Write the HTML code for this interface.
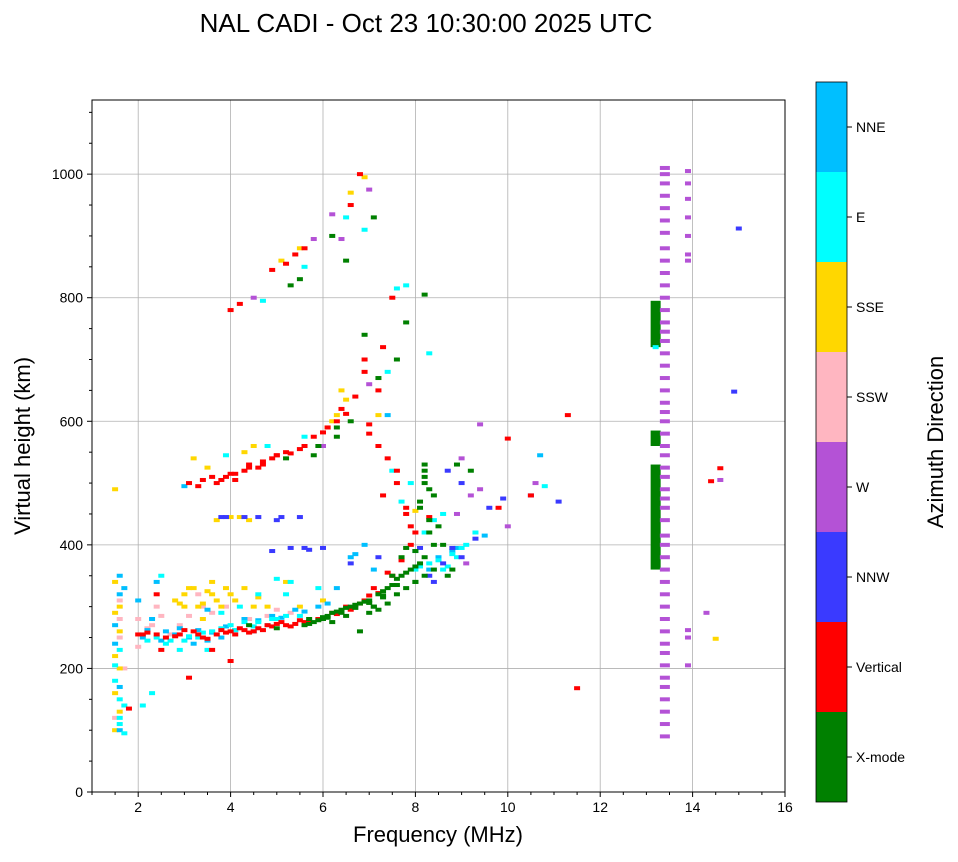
<!DOCTYPE html>
<html><head><meta charset="utf-8">
<style>
body{margin:0;background:#fff;font-family:"Liberation Sans",sans-serif;}
svg text{font-family:"Liberation Sans",sans-serif;}
</style></head>
<body>
<svg id="chart" width="958" height="857" xmlns="http://www.w3.org/2000/svg">
<text x="426" y="32" font-size="26" text-anchor="middle">NAL CADI - Oct 23 10:30:00 2025 UTC</text>
<g id="grid"></g>
<g id="marks"></g>
<rect x="92" y="100" width="693" height="692" fill="none" stroke="#000" stroke-width="1"/>
<g id="axes"></g>
<text x="438" y="842" font-size="22" text-anchor="middle">Frequency (MHz)</text>
<text transform="translate(30,446) rotate(-90)" font-size="22" text-anchor="middle">Virtual height (km)</text>
<g id="cbar"></g>
<text transform="translate(943,442) rotate(-90)" font-size="22" text-anchor="middle">Azimuth Direction</text>
</svg>
<script>
const xTicks=[2,4,6,8,10,12,14,16];
const yTicks=[0,200,400,600,800,1000];
const dirNames=["X-mode","Vertical","NNW","W","SSW","SSE","E","NNE"];
const dirColors=["#008000","#ff0000","#3a3aff","#b452d6","#ffb6c1","#ffd700","#00ffff","#00bfff"];
const xmodeF=[5.6,5.8,6.0,6.2,6.4,6.6,6.8,7.0,7.2,7.4,7.6,7.8,8.0,8.2,8.4,8.3,8.2,8.2,8.4,8.1,7.7,7.5,6.2,6.5,6.8,7.1,7.3,6.3,6.3,6.6,6.2,6.5,5.3,5.5,5.9,5.8,5.2,7.2,7.6,8.2,7.8,8.0,8.7,8.5,8.9,9.2,6.9,7.1,4.4,5.0,
 5.7,5.9,6.1,6.3,6.5,6.7,6.9,7.1,7.3,7.5,7.7,7.9,8.1,7.0,7.2,7.4,7.6,7.8,8.0,8.2,8.4,8.3,8.1,8.2,8.3,8.2,8.0,7.8,6.1,6.4,6.7,7.0,7.3,7.6,5.7,6.0,8.6,8.8];
const xmodeH=[270,275,280,290,295,300,305,310,320,330,345,355,365,380,400,420,530,500,480,460,380,350,275,285,260,300,315,590,575,600,900,860,820,830,560,545,540,670,700,805,760,340,350,430,530,520,740,930,270,265,
 272,278,285,292,298,303,308,300,325,335,350,360,370,290,295,305,320,330,340,350,360,440,470,510,490,520,390,395,282,290,298,306,318,335,280,283,400,360];
const vertF=[2.1,2.4,2.6,2.9,3.2,3.4,3.7,4.0,4.2,4.5,4.8,5.1,5.3,5.6,5.9,6.2,6.5,6.9,7.1,7.4,7.7,7.9,7.3,7.6,3.1,3.4,3.7,3.9,4.1,4.3,4.6,4.9,5.2,5.5,5.8,6.1,6.4,6.7,6.9,7.3,7.5,4.0,4.2,4.9,5.2,5.4,5.6,6.6,6.8,3.1,4.0,2.5,1.8,10.0,11.3,11.5,14.4,14.6,10.5,9.8,7.0,7.8,8.3,2.4,2.0,3.6,
 2.2,2.8,3.0,3.3,3.5,3.8,3.9,4.1,4.3,4.4,4.6,4.7,4.9,5.0,5.2,5.4,5.5,5.7,6.0,6.3,6.6,6.8,7.0,7.2,7.5,3.3,3.6,3.8,4.0,4.4,4.7,5.0,5.3,5.6,6.0,6.3,6.5,7.0,7.2,7.4,7.6,7.8,8.0,7.9,7.2,6.9,4.1,4.4,4.7,5.0];
const vertH=[255,255,250,255,260,250,255,260,265,260,270,275,268,275,280,290,300,310,330,355,375,430,480,520,500,505,500,510,515,520,525,540,550,555,575,590,620,640,700,720,800,780,790,845,855,870,880,950,1000,185,212,230,135,572,610,168,503,524,480,460,595,450,445,320,255,230,
 258,252,262,255,248,262,258,255,262,258,265,262,268,272,270,272,278,276,282,288,295,305,318,322,350,495,510,505,515,525,530,545,548,560,582,600,612,580,560,540,500,460,420,400,650,680,505,530,535,545];
const nnwF=[3.9,4.6,5.1,5.5,5.3,5.7,6.0,4.9,8.1,8.4,8.6,9.0,9.3,8.7,9.0,9.9,10.5,14.9,15.0,11.1,6.6,7.2,3.8,4.3,5.0,5.6,8.3,8.8,9.6];
const nnwH=[445,445,445,445,395,392,395,390,395,340,370,380,410,520,500,475,480,648,912,470,370,380,445,445,440,395,350,395,460];
const wF=[13.9,13.9,13.9,13.9,13.9,13.9,13.9,13.9,13.9,13.9,14.3,14.6,9.2,8.9,9.4,9.0,9.4,6.2,6.4,7.0,5.8,4.5,7.0,6.0,10.6,10.0,9.1];
const wH=[1005,985,960,930,900,870,860,262,250,205,290,505,480,450,490,540,595,935,895,975,895,800,660,560,500,430,370];
const wColumnF=13.4;
const wColumnH=[90,110,130,150,170,185,205,225,240,260,280,300,320,340,360,380,400,415,440,460,475,490,510,525,545,560,580,600,615,630,650,670,690,710,730,745,760,780,800,820,840,860,880,905,925,945,965,985,1000,1010];
const sswF=[1.6,1.6,1.7,2.0,2.3,2.4,2.7,3.1,3.3,3.6,4.8,5.3,1.5,2.0,1.6,2.2,2.5,2.9,3.4,3.9,4.4,5.0];
const sswH=[250,280,200,280,270,300,255,285,320,290,285,290,120,235,310,265,285,270,300,300,280,295];
const sseF=[1.5,1.6,1.5,1.6,1.5,2.8,3.0,3.2,3.4,3.6,3.8,3.4,4.1,4.3,4.5,4.2,4.4,3.7,3.5,3.2,6.4,6.5,6.2,6.9,6.6,5.5,5.1,4.5,4.3,14.5,5.5,6.0,3.0,1.5,8.0,7.2,
 1.6,1.5,1.6,1.5,2.9,3.1,3.3,3.5,3.7,3.9,4.0,4.6,3.6,4.0,4.8,5.2,6.3,6.1];
const sseH=[100,130,160,300,340,310,320,330,305,320,300,280,310,330,300,445,440,440,525,540,650,635,600,995,970,880,860,560,550,248,300,310,300,490,455,610,
 200,220,260,290,305,330,300,325,310,330,320,315,340,445,300,340,610,590];
const eF=[2.4,2.7,3.0,3.3,3.6,4.0,4.6,5.0,5.5,5.9,5.3,5.0,4.6,4.2,3.8,8.1,8.3,8.6,8.8,9.1,9.3,8.4,8.6,7.9,7.5,7.6,7.8,8.3,5.6,4.7,6.5,6.9,1.6,1.6,1.7,2.1,2.3,1.5,3.9,4.8,5.6,13.2,10.8,7.4,2.5,5.2,2.9,
 2.6,3.1,3.4,3.8,4.3,4.8,5.2,8.0,8.5,8.9,9.0,8.7,7.7,8.2,1.5,1.6,1.7,1.6,2.2,3.5,4.1,4.5,4.9];
const eH=[250,245,245,250,260,270,275,280,285,330,340,345,320,300,290,365,370,360,385,400,420,440,450,500,520,815,820,710,850,795,930,910,230,150,140,140,160,180,545,560,575,720,495,680,350,320,230,
 240,252,258,265,275,270,285,360,375,380,395,365,470,420,205,120,95,110,245,230,262,268,280];
const nneF=[1.6,1.6,1.5,1.6,2.0,2.3,2.6,2.9,3.2,3.5,3.8,4.3,4.9,5.4,5.9,6.3,6.7,6.9,7.1,8.5,8.8,3.5,3.0,4.5,6.6,8.0,7.4,10.7,9.5,2.1,
 2.2,2.5,2.8,3.1,3.3,3.6,3.9,4.1,4.6,5.1,5.6,6.1,1.5,1.6,1.7,8.3,8.9,2.4];
const nneH=[100,170,270,320,310,280,260,265,240,245,250,280,285,295,300,330,385,400,360,380,390,295,495,260,380,390,610,545,415,250,
 262,245,255,250,262,258,268,262,278,282,292,305,240,350,330,360,395,340];
const xmodeBandF=13.2;
const xmodeBandLo=[360,560,720];
const xmodeBandHi=[530,585,795];

const NS="http://www.w3.org/2000/svg";
const X0=92,X1=785,Y0=792,Y1=100,FMIN=1,FMAX=16,HMIN=0,HMAX=1120;
function sx(f){return X0+(f-FMIN)/(FMAX-FMIN)*(X1-X0);}
function sy(h){return Y0-(h-HMIN)/(HMAX-HMIN)*(Y0-Y1);}
function mk(tag,attrs,parent){const e=document.createElementNS(NS,tag);for(const k in attrs)e.setAttribute(k,attrs[k]);parent.appendChild(e);return e;}
const grid=document.getElementById('grid'),axes=document.getElementById('axes'),marks=document.getElementById('marks'),cbar=document.getElementById('cbar');
xTicks.forEach(t=>{const x=sx(t);
 if(t<16){const g=mk('line',{x1:x,x2:x,y1:Y1,y2:Y0,stroke:'#b0b0b0','stroke-width':0.8},grid);}
 const tk=mk('line',{x1:x,x2:x,y1:Y0,y2:Y0+5,stroke:'#000'},axes);
 const tx=mk('text',{x:x,y:Y0+20,'font-size':14,'text-anchor':'middle'},axes);tx.textContent=t;
 
 });
for(let f=1;f<=16;f+=0.5){if(xTicks.includes(f))continue;const x=sx(f);const m=mk('line',{x1:x,x2:x,y1:Y0,y2:Y0+3,stroke:'#000'},axes);}
yTicks.forEach(t=>{const y=sy(t);
 if(t>0){const g=mk('line',{x1:X0,x2:X1,y1:y,y2:y,stroke:'#b0b0b0','stroke-width':0.8},grid);}
 const tk=mk('line',{x1:X0-5,x2:X0,y1:y,y2:y,stroke:'#000'},axes);
 const tx=mk('text',{x:X0-9,y:y+5,'font-size':14,'text-anchor':'end'},axes);tx.textContent=t;
 
 });
for(let h=50;h<1120;h+=50){if(yTicks.includes(h))continue;const y=sy(h);const m=mk('line',{x1:X0-3,x2:X0,y1:y,y2:y,stroke:'#000'},axes);}
function pts(F,H,c,name){F.forEach((f,i)=>{const r=mk('rect',{x:sx(f)-3,y:sy(H[i])-2,width:6,height:4,fill:dirColors[c]},marks);
 
 });}
xmodeBandLo.forEach((lo,i)=>{const r=mk('rect',{x:sx(xmodeBandF)-5,y:sy(xmodeBandHi[i]),width:10,height:sy(lo)-sy(xmodeBandHi[i]),fill:dirColors[0]},marks);
 
 });
wColumnH.forEach(h=>{const r=mk('rect',{x:sx(wColumnF)-5,y:sy(h)-2,width:10,height:4,fill:dirColors[3]},marks);
 
 });
pts(sswF,sswH,4,'ssw-point');pts(sseF,sseH,5,'sse-point');pts(nneF,nneH,7,'nne-point');
pts(eF,eH,6,'e-point');pts(nnwF,nnwH,2,'nnw-point');pts(wF,wH,3,'w-point');
pts(vertF,vertH,1,'vertical-point');pts(xmodeF,xmodeH,0,'xmode-point');
const CB_X=816,CB_W=31,CB_TOP=82,CB_BOT=802,seg=(CB_BOT-CB_TOP)/dirNames.length;
dirNames.forEach((n,i)=>{const y=CB_BOT-(i+1)*seg;
 const r=mk('rect',{x:CB_X,y:y,width:CB_W,height:seg,fill:dirColors[i]},cbar);
 
 
 const tk=mk('line',{x1:CB_X+CB_W,x2:CB_X+CB_W+5,y1:y+seg/2,y2:y+seg/2,stroke:'#000'},cbar);
 
 
 const t=mk('text',{x:CB_X+CB_W+9,y:y+seg/2+5,'font-size':14},cbar);t.textContent=n;
 
 });
const fr=mk('rect',{x:CB_X,y:CB_TOP,width:CB_W,height:CB_BOT-CB_TOP,fill:'none',stroke:'#000','stroke-width':0.8},cbar);


</script>
</body></html>
